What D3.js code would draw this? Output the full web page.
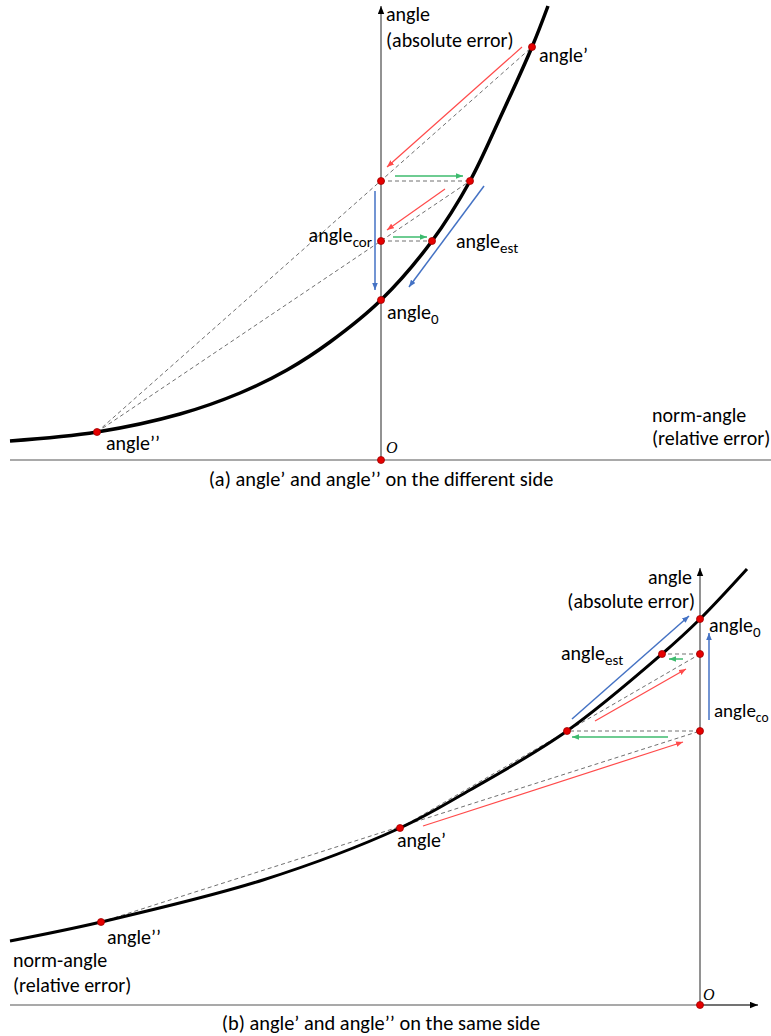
<!DOCTYPE html>
<html>
<head>
<meta charset="utf-8">
<script src="https://cdn.jsdelivr.net/npm/d3@7"></script>
<style>
  body { margin: 0; background: #fff; }
  text { font-family: Carlito, Lato, "Open Sans", sans-serif; fill: #000; }
</style>
</head>
<body>
<div id="chart"></div>
<script>
// Dados: coordenadas relativas à origem O de cada painel (eixo y para cima)

// Painel (a)
const curveA = [[-371, 19], [-284, 28], [-201, 46], [-141, 67], [-94, 90], [-51, 118],
                [0, 160], [51, 219], [89, 279], [119, 342], [151, 413], [167, 454]];
const dotsA = [[151, 413], [0, 279], [89, 279], [0, 219], [51, 219], [0, 160], [-284, 28], [0, 0]];
const dashA = [[-284, 28, 151, 413], [-284, 28, 89, 279], [0, 279, 89, 279], [0, 219, 51, 219]];
const redA = [[141, 413, 6, 293], [64, 271, 6, 230]];
const greenA = [[14, 284, 82, 284], [12, 223, 46, 223]];
const blueA = [[-6, 269, -6, 170], [103, 274, 28, 173]];
const labelsA = [
  { t: "angle", x: 5, y: 439 },
  { t: "(absolute error)", x: 5, y: 413 },
  { t: "angle\u2019", x: 158, y: 398 },
  { t: "angle", sub: "cor", x: -9, y: 218, end: true },
  { t: "angle", sub: "est", x: 75, y: 212 },
  { t: "angle", sub: "0", x: 6, y: 141 },
  { t: "angle\u2019\u2019", x: -275, y: 10 },
  { t: "norm-angle", x: 271, y: 38 },
  { t: "(relative error)", x: 271, y: 15 }
];

// Painel (b)
const curveB = [[-690, 64], [-599, 83], [-437, 125], [-300, 177], [-230, 215],
                [-133, 274], [-38, 351], [0, 386], [47, 436]];
const dotsB = [[0, 386], [0, 351], [-38, 351], [0, 274], [-133, 274], [-300, 177], [-599, 83], [0, 0]];
const dashB = [[-599, 83, 0, 274], [-300, 177, 0, 351], [0, 274, -133, 274], [0, 351, -38, 351]];
const redB = [[-277, 179, -17, 263], [-105, 284, -14, 336]];
const greenB = [[-32, 268, -128, 268], [-17, 346, -31, 346]];
const blueB = [[9, 285, 9, 372], [-128, 286, -11, 389]];
const labelsB = [
  { t: "angle", x: -8, y: 421, end: true },
  { t: "(absolute error)", x: -5, y: 397, end: true },
  { t: "angle", sub: "0", x: 9, y: 373 },
  { t: "angle", sub: "est", x: -139, y: 345 },
  { t: "angle", sub: "co", x: 14, y: 288, small: true },
  { t: "angle\u2019", x: -303, y: 158 },
  { t: "angle\u2019\u2019", x: -593, y: 61 },
  { t: "norm-angle", x: -687, y: 38 },
  { t: "(relative error)", x: -687, y: 13 }
];

const captions = ["(a) angle\u2019 and angle\u2019\u2019 on the different side",
                  "(b) angle\u2019 and angle\u2019\u2019 on the same side"];

const svg = d3.select("#chart").append("svg")
  .attr("width", 771)
  .attr("height", 1036);

// Marcadores das setas
const defs = svg.append("defs");
const markerColors = { red: "#ff4b4b", green: "#3dbb6e", blue: "#4472c4", axis: "#000" };
Object.entries(markerColors).forEach(([k, c]) => {
  const big = k === "axis";
  defs.append("marker")
    .attr("id", "m-" + k)
    .attr("markerUnits", "userSpaceOnUse")
    .attr("viewBox", "0 0 10 8")
    .attr("refX", 10).attr("refY", 4)
    .attr("markerWidth", big ? 8 : 7)
    .attr("markerHeight", big ? 7 : 6)
    .attr("orient", "auto")
    .append("path")
    .attr("d", "M0,0 L10,4 L0,8 Z")
    .attr("fill", c);
});

function drawPanel(x, y, d, opt) {
  const g = svg.append("g");

  // Eixos
  g.append("line")
    .attr("x1", x(opt.xAxis[0])).attr("x2", x(0))
    .attr("y1", y(0)).attr("y2", y(0))
    .attr("stroke", "#8c8c8c").attr("stroke-width", 1.5);
  g.append("line")
    .attr("x1", x(0)).attr("x2", x(opt.xAxis[1]))
    .attr("y1", y(0)).attr("y2", y(0))
    .attr("stroke", opt.xArrow ? "#444" : "#8c8c8c").attr("stroke-width", 1.5)
    .attr("marker-end", opt.xArrow ? "url(#m-axis)" : null);
  g.append("line")
    .attr("x1", x(0)).attr("x2", x(0))
    .attr("y1", y(0)).attr("y2", y(opt.yTop))
    .attr("stroke", "#6e6e6e").attr("stroke-width", 1.5)
    .attr("marker-end", "url(#m-axis)");

  // Linhas tracejadas
  g.selectAll(".dash").data(d.dash).enter().append("line")
    .attr("x1", e => x(e[0])).attr("y1", e => y(e[1]))
    .attr("x2", e => x(e[2])).attr("y2", e => y(e[3]))
    .attr("stroke", "#707070").attr("stroke-width", 1)
    .attr("stroke-dasharray", "4,3");

  // Curva
  g.append("path")
    .datum(d.curve)
    .attr("d", d3.line().x(e => x(e[0])).y(e => y(e[1])).curve(d3.curveCatmullRom.alpha(0.5)))
    .attr("fill", "none")
    .attr("stroke", "#000")
    .attr("stroke-width", opt.curveWidth);

  // Setas coloridas
  [["red", d.red, 1.2], ["green", d.green, 2], ["blue", d.blue, 1.5]].forEach(([k, arr, w]) => {
    g.selectAll(".a-" + k).data(arr).enter().append("line")
      .attr("x1", e => x(e[0])).attr("y1", e => y(e[1]))
      .attr("x2", e => x(e[2])).attr("y2", e => y(e[3]))
      .attr("stroke", markerColors[k])
      .attr("stroke-opacity", k === "green" ? 0.75 : 1)
      .attr("stroke-width", w)
      .attr("marker-end", `url(#m-${k})`);
  });

  // Pontos vermelhos
  g.selectAll("circle").data(d.dots).enter().append("circle")
    .attr("cx", e => x(e[0])).attr("cy", e => y(e[1]))
    .attr("r", 3.5)
    .attr("fill", "#e60000")
    .attr("stroke", "#a00000").attr("stroke-width", 0.8);

  // Textos
  d.labels.forEach(l => {
    const t = g.append("text")
      .attr("x", x(l.x)).attr("y", y(l.y))
      .attr("font-size", l.small ? 19 : 20)
      .attr("text-anchor", l.end ? "end" : "start");
    t.append("tspan").text(l.t);
    if (l.sub) {
      t.append("tspan").attr("font-size", l.small ? 13.5 : 15).attr("dy", 5).text(l.sub);
    }
  });

  g.append("text")
    .attr("x", x(opt.oLabel[0])).attr("y", y(opt.oLabel[1]))
    .attr("font-size", 16)
    .attr("font-style", "italic")
    .style("font-family", "Liberation Serif, serif")
    .text("O");

  g.append("text")
    .attr("x", 381).attr("y", opt.capY)
    .attr("text-anchor", "middle")
    .attr("font-size", 20.4)
    .text(opt.caption);
}

const xA = d3.scaleLinear().domain([-381, 390]).range([0, 771]);
const yA = d3.scaleLinear().domain([0, 460]).range([460, 0]);
drawPanel(xA, yA,
  { curve: curveA, dots: dotsA, dash: dashA, red: redA, green: greenA, blue: blueA, labels: labelsA },
  { xAxis: [-371, 390], xArrow: false, yTop: 454, curveWidth: 3.5, oLabel: [5, 7], capY: 486, caption: captions[0] });

const xB = d3.scaleLinear().domain([-700, 71]).range([0, 771]);
const yB = d3.scaleLinear().domain([0, 1005]).range([1005, 0]);
drawPanel(xB, yB,
  { curve: curveB, dots: dotsB, dash: dashB, red: redB, green: greenB, blue: blueB, labels: labelsB },
  { xAxis: [-690, 58], xArrow: true, yTop: 437, curveWidth: 3, oLabel: [3, 5], capY: 1030, caption: captions[1] });
</script>
</body>
</html>
